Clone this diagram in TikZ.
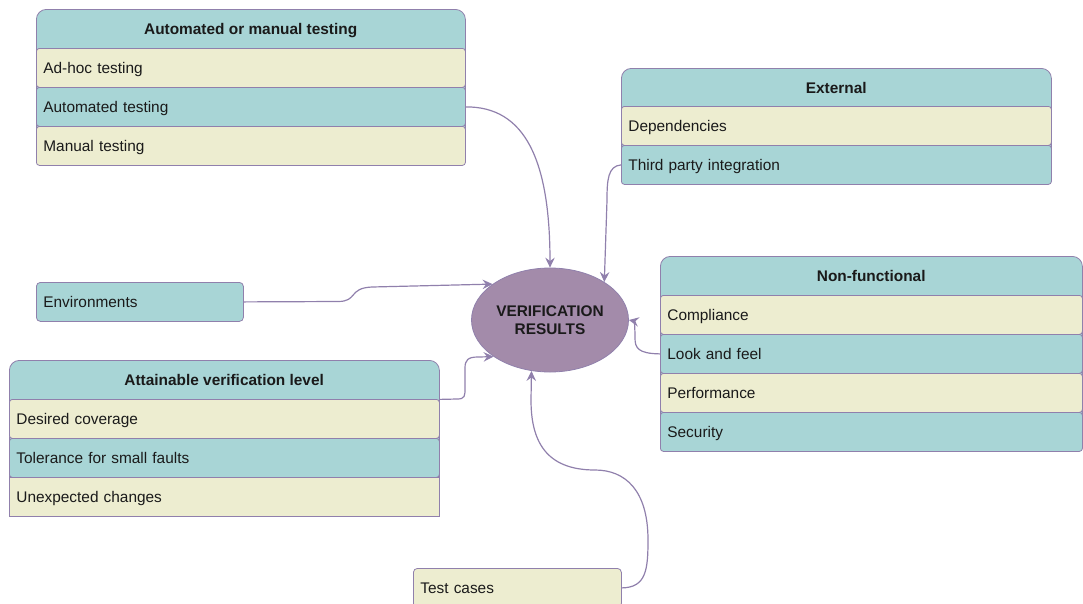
\documentclass[tikz,border=0pt]{standalone}
\usepackage{fontspec}
\setmainfont{Liberation Sans}
\usetikzlibrary{shapes.geometric,arrows.meta}
\definecolor{tealfill}{HTML}{A8D5D6}
\definecolor{creamfill}{HTML}{EDEDD0}
\definecolor{purpfill}{HTML}{A38BAA}
\definecolor{edgecol}{HTML}{9080AC}
\definecolor{txtcol}{HTML}{1A1A1A}
\begin{document}
\begin{tikzpicture}[x=1pt,y=-1pt,
  every node/.style={text=txtcol},
  cont/.style={draw=edgecol, fill=tealfill, line width=0.8pt, rounded corners=10pt, anchor=north west, inner sep=0pt},
  hdr/.style={anchor=north west, minimum height=39pt, inner sep=0pt, text height=11pt, text depth=0pt, font=\fontsize{15.4}{18}\selectfont\bfseries},
  row/.style={draw=edgecol, line width=0.8pt, rounded corners=3pt, anchor=north west, minimum height=39pt, inner xsep=7pt, inner ysep=0pt, text height=11pt, text depth=0pt, align=left, font=\fontsize{15.4}{18}\selectfont},
  rowT/.style={row, fill=tealfill},
  rowC/.style={row, fill=creamfill},
  link/.style={draw=edgecol, line width=1.2pt, -{Stealth[length=10pt,width=9.5pt,inset=3.5pt]}}
]
\useasboundingbox (0,0) rectangle (1083,603);

% Automated or manual testing
\node[cont, minimum width=429pt, minimum height=156pt] (c1) at (36,9) {};
\node[hdr, minimum width=429pt] (h1) at (36,9) {Automated or manual testing};
\node[rowC, text width=415pt] (a1) at (36,48) {Ad-hoc testing};
\node[rowT, text width=415pt] (a2) at (36,87) {Automated testing};
\node[rowC, text width=415pt] (a3) at (36,126) {Manual testing};

% External
\node[cont, minimum width=430pt, minimum height=116pt] (c2) at (621,68) {};
\node[hdr, minimum width=430pt] (h2) at (621,68) {External};
\node[rowC, text width=416pt] (e1) at (621,106) {Dependencies};
\node[rowT, text width=416pt] (e2) at (621,145) {Third party integration};

% Non-functional
\node[cont, minimum width=422pt, minimum height=195pt] (c3) at (660,256) {};
\node[hdr, minimum width=422pt] (h3) at (660,256) {Non-functional};
\node[rowC, text width=408pt] (n1) at (660,295) {Compliance};
\node[rowT, text width=408pt] (n2) at (660,334) {Look and feel};
\node[rowC, text width=408pt] (n3) at (660,373) {Performance};
\node[rowT, text width=408pt] (n4) at (660,412) {Security};

% Attainable verification level
\node[cont, minimum width=430pt, minimum height=156pt] (c4) at (9,360) {};
\node[hdr, minimum width=430pt] (h4) at (9,360) {Attainable verification level};
\node[rowC, text width=416pt] (t1) at (9,399) {Desired coverage};
\node[rowT, text width=416pt] (t2) at (9,438) {Tolerance for small faults};
\node[rowC, text width=416pt, sharp corners] (t3) at (9,477) {Unexpected changes};

% Single boxes
\node[rowT, rounded corners=4pt, text width=193pt] (env) at (36,282) {Environments};
\node[rowC, rounded corners=4pt, text width=194pt] (tc) at (413,568) {Test cases};

% Central ellipse
\node[ellipse, draw=edgecol, line width=0.8pt, fill=purpfill, minimum width=157pt, minimum height=104pt, inner sep=0pt, align=center, font=\fontsize{15.4}{18.5}\selectfont\bfseries] (V) at (550,320) {VERIFICATION\\RESULTS};

% Connectors
\draw[link] (a2.east) .. controls (525,106.5) and (550,160) .. (V.north);
\draw[link] (e2.west) .. controls (608,166) and (607,180) .. (607,200) -- (V.35);
\draw[link] (env.east) -- (338,301.5) .. controls (358,301.5) and (348,288) .. (372,287) -- (V.148);
\draw[link] (h4.south east) -- (457,399) .. controls (465,399) and (465,396) .. (465,388) -- (465,368) .. controls (465,360) and (468,357) .. (478,357) -- (V.213);
\draw[link] (n2.west) .. controls (638,353.5) and (635,348) .. (635,338) .. controls (635,326) and (634,321) .. (V.east);
\draw[link] (tc.east) .. controls (646,587.5) and (648,570) .. (648,540) .. controls (648,490) and (625,470) .. (595,470) .. controls (545,470) and (531,440) .. (531,400) -- (V.250);
\end{tikzpicture}
\end{document}
